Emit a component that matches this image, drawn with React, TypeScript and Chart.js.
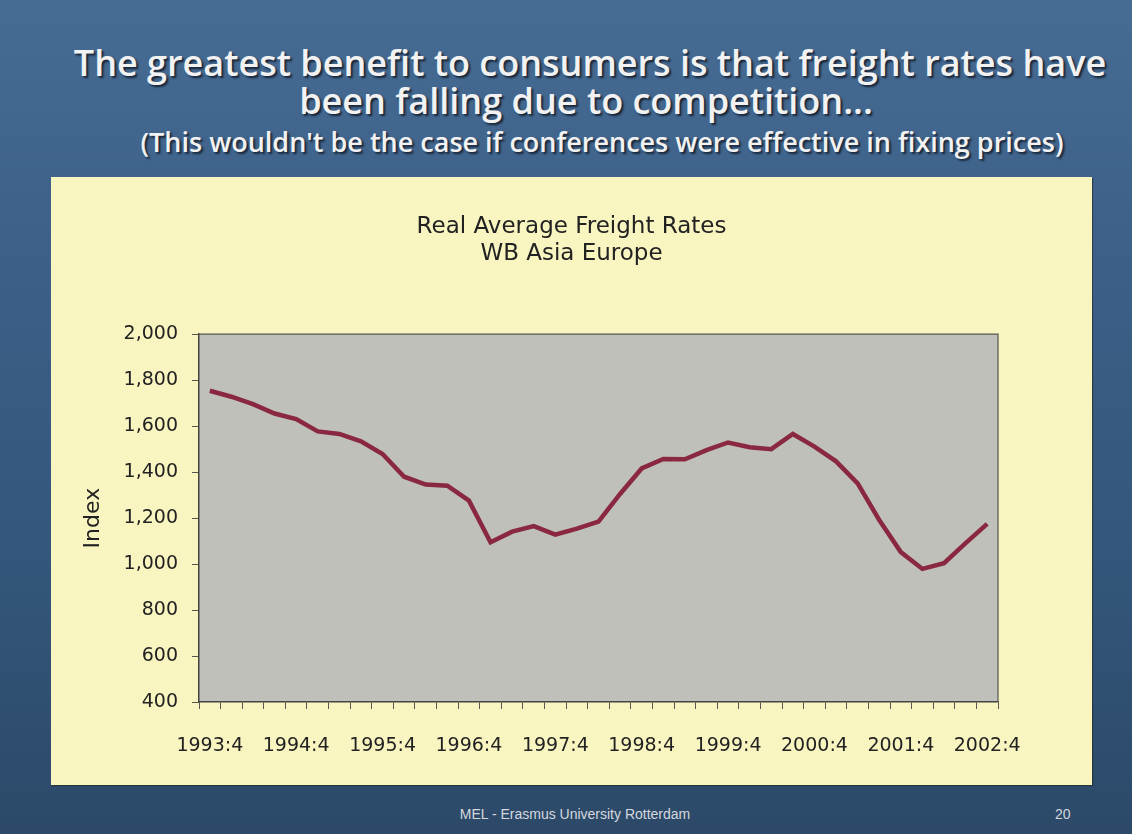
import React, { useEffect, useRef } from "react";
import { Chart, registerables } from "chart.js";

Chart.register(...registerables);

const quarters: string[] = [
  "1993:4",
  "1994:1", "1994:2", "1994:3", "1994:4",
  "1995:1", "1995:2", "1995:3", "1995:4",
  "1996:1", "1996:2", "1996:3", "1996:4",
  "1997:1", "1997:2", "1997:3", "1997:4",
  "1998:1", "1998:2", "1998:3", "1998:4",
  "1999:1", "1999:2", "1999:3", "1999:4",
  "2000:1", "2000:2", "2000:3", "2000:4",
  "2001:1", "2001:2", "2001:3", "2001:4",
  "2002:1", "2002:2", "2002:3", "2002:4",
];

const freightIndex: number[] = [
  1754, 1728, 1696, 1655, 1631,
  1577, 1566, 1534, 1479,
  1380, 1346, 1341, 1276,
  1095, 1141, 1165, 1128,
  1154, 1185, 1305, 1416,
  1457, 1456, 1496, 1529,
  1508, 1500, 1566, 1511,
  1447, 1351, 1192, 1052,
  979, 1004, 1091, 1175,
];

const shownTickLabels: string[] = [
  "1993:4", "1994:4", "1995:4", "1996:4", "1997:4",
  "1998:4", "1999:4", "2000:4", "2001:4", "2002:4",
];

const chartTitle: string[] = ["Real Average Freight Rates", "WB Asia Europe"];
const yAxisTitle = "Index";

const FONT = "'DejaVu Sans', sans-serif";

const plotBackground = {
  id: "plotBackground",
  beforeDraw(chart: any) {
    const { ctx, chartArea } = chart;
    ctx.save();
    ctx.fillStyle = "#bfc0ba";
    ctx.fillRect(chartArea.left, chartArea.top, chartArea.right - chartArea.left, chartArea.bottom - chartArea.top);
    ctx.restore();
  },
  afterDraw(chart: any) {
    const { ctx, chartArea } = chart;
    ctx.save();
    ctx.strokeStyle = "#55564e";
    ctx.lineWidth = 1.2;
    ctx.beginPath();
    ctx.moveTo(chartArea.left, chartArea.top);
    ctx.lineTo(chartArea.right, chartArea.top);
    ctx.lineTo(chartArea.right, chartArea.bottom);
    ctx.stroke();
    ctx.restore();
  },
};

function FreightChart() {
  const canvasRef = useRef<HTMLCanvasElement | null>(null);

  useEffect(() => {
    if (!canvasRef.current) return;
    const chart = new Chart(canvasRef.current, {
      type: "line",
      data: {
        labels: quarters,
        datasets: [
          {
            data: freightIndex,
            borderColor: "#8a2842",
            borderWidth: 4.5,
            pointRadius: 0,
            tension: 0,
            fill: false,
            yAxisID: "y",
          },
        ],
      },
      options: {
        animation: false,
        responsive: false,
        events: [],
        layout: { padding: { left: 0, right: 0, top: 0, bottom: 0 } },
        plugins: {
          legend: { display: false },
          tooltip: { enabled: false },
          title: {
            display: true,
            text: chartTitle,
            color: "#222222",
            font: { family: FONT, size: 23, weight: "normal", lineHeight: 1.2 },
            padding: { top: 36, bottom: 66 },
          },
        },
        scales: {
          x: {
            type: "category",
            offset: true,
            grid: {
              offset: true,
              drawOnChartArea: false,
              drawTicks: true,
              tickLength: 7,
              color: "#55564e",
              lineWidth: 1,
            },
            border: { display: true, color: "#44453e", width: 1.5 },
            ticks: {
              autoSkip: false,
              maxRotation: 0,
              minRotation: 0,
              color: "#222222",
              font: { family: FONT, size: 19 },
              padding: 26,
              callback: (_v: any, i: number) =>
                shownTickLabels.includes(quarters[i]) ? quarters[i] : "",
            },
            afterFit: (s: any) => {
              s.height = 83;
            },
          },
          y: {
            position: "left",
            min: 400,
            max: 2000,
            ticks: {
              stepSize: 200,
              color: "#222222",
              font: { family: FONT, size: 19 },
              padding: 14,
              callback: (v: any) => Number(v).toLocaleString("en-US"),
            },
            grid: {
              drawOnChartArea: false,
              drawTicks: true,
              tickLength: 7,
              color: "#55564e",
            },
            border: { display: true, color: "#44453e", width: 1.5 },
            title: {
              display: true,
              text: yAxisTitle,
              color: "#222222",
              font: { family: FONT, size: 22 },
              padding: { top: 29, bottom: 0 },
            },
            afterFit: (s: any) => {
              s.width = 148;
            },
          },
          yRight: {
            position: "right",
            min: 400,
            max: 2000,
            ticks: { display: false },
            grid: { display: false, drawOnChartArea: false },
            border: { display: false },
            afterFit: (s: any) => {
              s.width = 94;
            },
          },
        },
      },
      plugins: [plotBackground],
    });
    return () => chart.destroy();
  }, []);

  return <canvas ref={canvasRef} width={1041} height={608} style={{ display: "block" }} />;
}

export default function App() {
  const shadow = "2px 2px 2px rgba(20,30,45,0.9)";
  return (
    <div
      style={{
        position: "fixed",
        left: 0,
        top: 0,
        width: 1132,
        height: 834,
        overflow: "hidden",
        background: "linear-gradient(180deg, #476c93 0%, #3c6088 30%, #33557a 70%, #2c4968 100%)",
        fontFamily: FONT,
      }}
    >
      <div
        style={{
          position: "absolute",
          left: 0,
          width: 1132,
          top: 44,
          textAlign: "center",
          color: "#f2f2f2",
          fontFamily: "'Open Sans', sans-serif",
          fontWeight: 600,
          fontSize: 36,
          lineHeight: "38px",
          textShadow: shadow,
        }}
      >
        <div style={{ transform: "translateX(24px)" }}>The greatest benefit to consumers is that freight rates have</div>
        <div style={{ transform: "translateX(20px)" }}>been falling due to competition...</div>
      </div>
      <div
        style={{
          position: "absolute",
          left: 0,
          width: 1132,
          top: 125,
          textAlign: "center",
          color: "#f2f2f2",
          fontFamily: "'Open Sans', sans-serif",
          fontWeight: 600,
          fontSize: 27,
          lineHeight: "34px",
          textShadow: shadow,
        }}
      >
        <div style={{ transform: "translateX(36px)" }}>
          (This wouldn't be the case if conferences were effective in fixing prices)
        </div>
      </div>
      <div
        style={{
          position: "absolute",
          left: 51,
          top: 177,
          width: 1041,
          height: 608,
          background: "#f8f5c1",
          boxShadow: "1px 1px 1px rgba(40,40,30,0.6)",
        }}
      >
        <FreightChart />
      </div>
      <div
        style={{
          position: "absolute",
          left: 0,
          width: 1150,
          top: 806,
          textAlign: "center",
          color: "#d5d8de",
          fontFamily: "'Liberation Sans', sans-serif",
          fontSize: 14,
        }}
      >
        MEL - Erasmus University Rotterdam
      </div>
      <div
        style={{
          position: "absolute",
          left: 1055,
          top: 806,
          color: "#d5d8de",
          fontFamily: "'Liberation Sans', sans-serif",
          fontSize: 14,
        }}
      >
        20
      </div>
    </div>
  );
}
